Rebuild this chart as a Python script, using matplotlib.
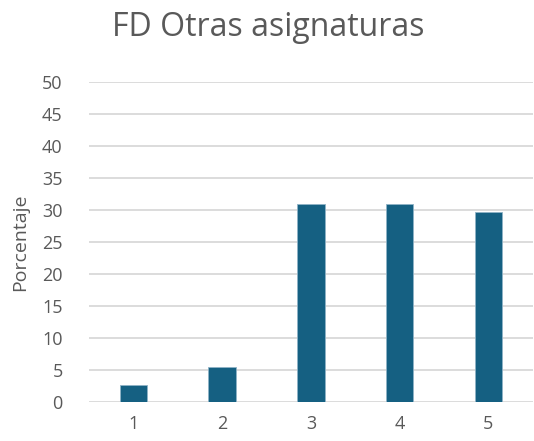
import matplotlib.pyplot as plt

categories = ["1", "2", "3", "4", "5"]
porcentaje = [2.7, 5.5, 31.0, 31.0, 29.6]
yticks = [0, 5, 10, 15, 20, 25, 30, 35, 40, 45, 50]

plt.rcParams['font.family'] = ['Open Sans', 'DejaVu Sans']

fig = plt.figure(figsize=(5.34, 4.41), dpi=100)
ax = fig.add_axes([0.1667, 0.0878, 0.831, 0.727])

x = range(len(categories))
ax.bar(x, porcentaje, width=0.31, color='#156082', edgecolor='#8fb3c6', linewidth=0.6, zorder=3)

ax.set_xlim(-0.5, len(categories) - 0.5)
ax.set_ylim(0, 50)
ax.set_yticks(yticks)
ax.set_xticks(list(x))
ax.set_xticklabels(categories)

ax.grid(axis='y', color='#d9d9d9', linewidth=1.3, zorder=0)
for s in ax.spines.values():
    s.set_visible(False)
ax.tick_params(length=0, labelsize=13, labelcolor='#595959')
ax.tick_params(axis='y', pad=19)
ax.tick_params(axis='x', pad=9)

ax.set_ylabel("Porcentaje", fontsize=14, color='#595959', labelpad=9)
fig.text(0.503, 0.937, "FD Otras asignaturas", ha='center', va='center', fontsize=23, color='#595959')

plt.savefig('out.png', dpi=100)
